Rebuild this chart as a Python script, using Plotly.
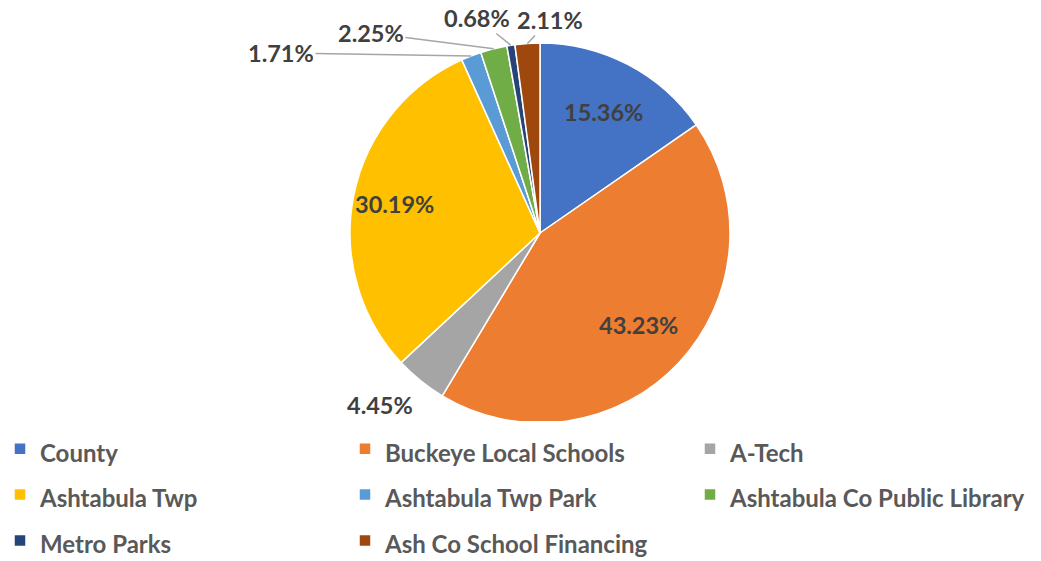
import math
import plotly.graph_objects as go

labels = ["County", "Buckeye Local Schools", "A-Tech", "Ashtabula Twp",
          "Ashtabula Twp Park", "Ashtabula Co Public Library", "Metro Parks",
          "Ash Co School Financing"]
values = [15.36, 43.23, 4.45, 30.19, 1.71, 2.25, 0.68, 2.11]
colors = ["#4472C4", "#ED7D31", "#A5A5A5", "#FFC000", "#5B9BD5", "#70AD47",
          "#264478", "#9E480E"]

W, H = 1041, 561
cx, cy, R = 540, 233, 190  # pie centre / radius in pixels

legend_names = ["<span style='font-size:24px'>%s</span>" % l for l in labels]

fig = go.Figure(go.Pie(
    labels=legend_names, values=values, sort=False, direction="clockwise", rotation=0,
    marker=dict(colors=colors, line=dict(color="white", width=1.5)),
    textinfo="none",
    domain=dict(x=[(cx - R) / W, (cx + R) / W], y=[1 - (cy + R) / H, 1 - (cy - R) / H]),
    showlegend=True, hoverinfo="value",
))

lab_font = dict(family="Lato", size=23.5, color="#404040", weight="bold")

# inside labels: radial position as fraction of radius
inside_k = {0: 0.72, 1: 0.71, 3: 0.78}
# outside labels (pixel positions of the label text)
outside_px = {2: (380, 405), 4: (281, 53), 5: (371, 33), 6: (477, 18), 7: (550, 20)}
leader = {4, 5, 6, 7}
total = sum(values)
cum = 0
for i, v in enumerate(values):
    mid = (cum + v / 2) / total * 2 * math.pi
    cum += v
    s, c = math.sin(mid), -math.cos(mid)
    if i in inside_k:
        k = inside_k[i]
        fig.add_annotation(x=(cx + k * R * s) / W, y=1 - (cy + k * R * c) / H,
                           xref="paper", yref="paper", text="%.2f%%" % v,
                           xanchor="center", yanchor="middle",
                           showarrow=False, font=lab_font)
        continue
    lx, ly = outside_px[i]
    if i in leader:
        tx, ty = cx + R * s, cy + R * c
        fig.add_annotation(
            x=tx / W, y=1 - ty / H, xref="paper", yref="paper",
            ax=lx - tx, ay=ly - ty, axref="pixel", ayref="pixel",
            text="%.2f%%" % v, showarrow=True, arrowhead=0, arrowwidth=1.5,
            arrowcolor="#A6A6A6", standoff=0, startstandoff=0, font=lab_font)
    else:
        fig.add_annotation(x=lx / W, y=1 - ly / H, xref="paper", yref="paper",
                           xanchor="center", yanchor="middle",
                           text="%.2f%%" % v, showarrow=False, font=lab_font)

fig.update_layout(
    width=W, height=H, margin=dict(l=0, r=0, t=0, b=0, autoexpand=False),
    paper_bgcolor="white", plot_bgcolor="white",
    legend=dict(orientation="h", x=0.0, y=0.25, xanchor="left", yanchor="top",
                entrywidth=300, entrywidthmode="pixels",
                font=dict(family="Lato", size=33, color="#595959", weight="bold")),
)

fig.write_html("out.html", config={"displayModeBar": False},
               post_script="document.body.style.margin='0px';")
